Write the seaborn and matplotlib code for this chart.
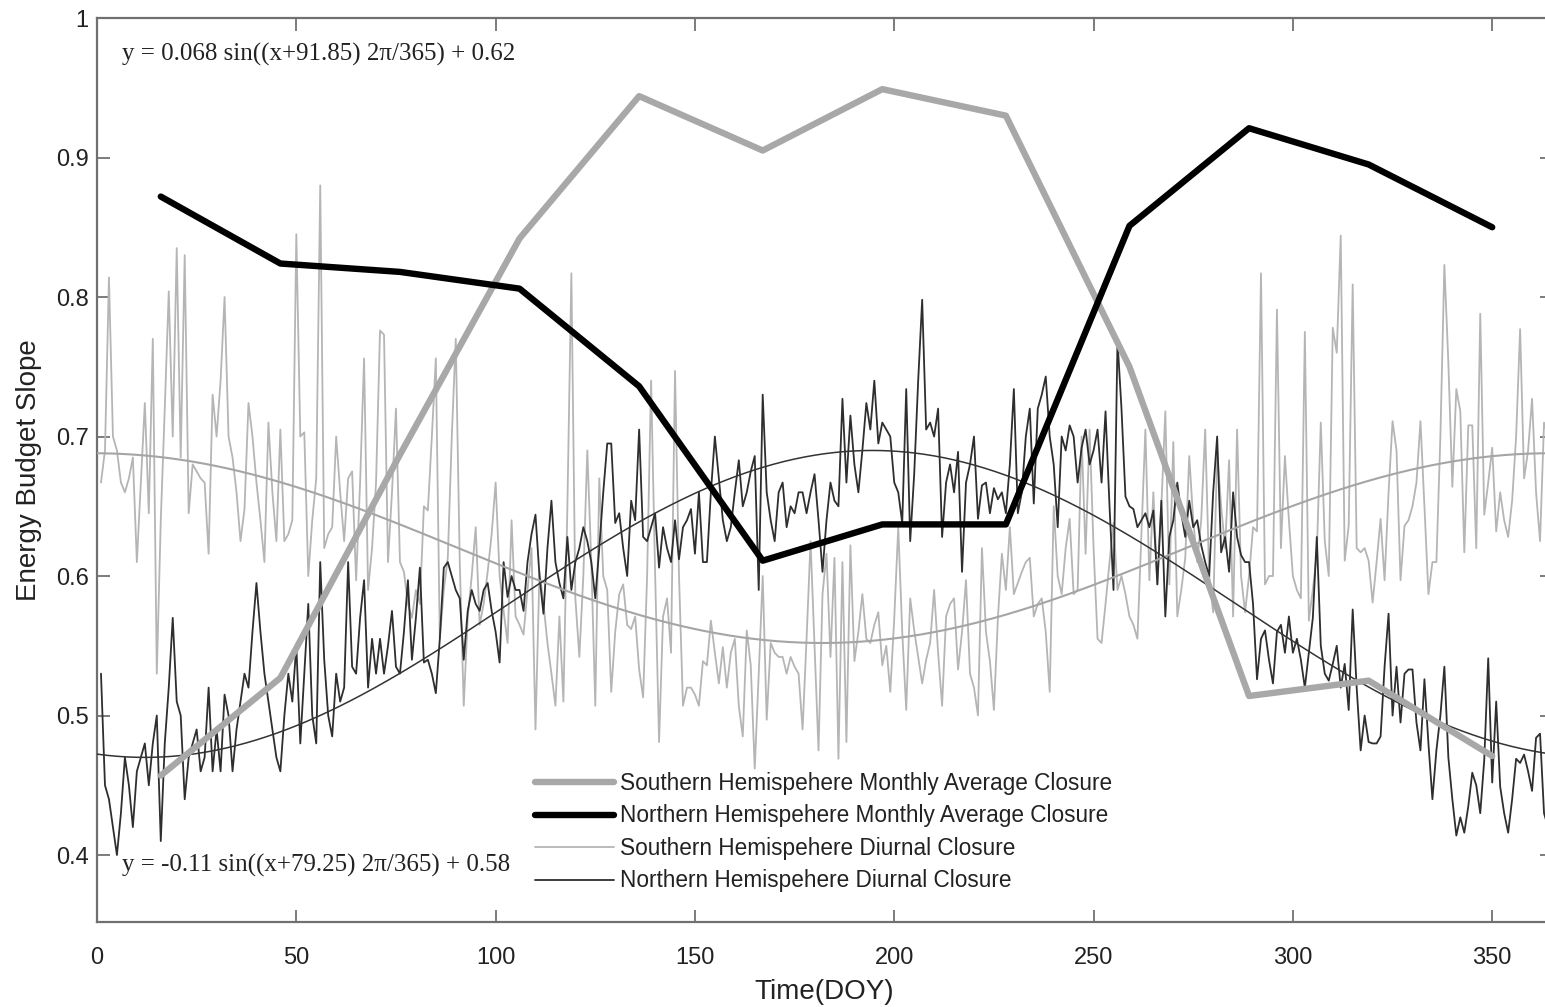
import numpy as np
import pandas as pd
import matplotlib
matplotlib.use("Agg")
import matplotlib.pyplot as plt
import seaborn as sns

# ---------------------------------------------------------------- data
# Monthly average closure (mid-month day of year)
month_doy = [16, 46, 76, 106, 136, 167, 197, 228, 259, 289, 319, 350]
south_monthly = [0.457, 0.527, 0.687, 0.842, 0.944, 0.905, 0.949, 0.930,
                 0.750, 0.514, 0.525, 0.471]
north_monthly = [0.872, 0.824, 0.818, 0.806, 0.736, 0.611, 0.637, 0.637,
                 0.851, 0.921, 0.895, 0.850]

# Daily (diurnal) closure, DOY 1..364
south_diurnal = [
    0.667, 0.69, 0.814, 0.70, 0.69, 0.667, 0.66, 0.67, 0.685, 0.61,
    0.667, 0.724, 0.645, 0.77, 0.53, 0.64, 0.72, 0.804, 0.70, 0.835,
    0.685, 0.83, 0.645, 0.68, 0.675, 0.67, 0.667, 0.616, 0.73, 0.70,
    0.74, 0.80, 0.70, 0.685, 0.66, 0.625, 0.648, 0.724, 0.70, 0.667,
    0.64, 0.61, 0.71, 0.66, 0.625, 0.705, 0.625, 0.63, 0.64, 0.845,
    0.70, 0.703, 0.60, 0.64, 0.67, 0.88, 0.62, 0.63, 0.635, 0.70,
    0.66, 0.625, 0.67, 0.675, 0.597, 0.667, 0.756, 0.59, 0.62, 0.667,
    0.776, 0.773, 0.61, 0.66, 0.72, 0.61, 0.603, 0.58, 0.57, 0.59,
    0.58, 0.65, 0.647, 0.70, 0.756, 0.555, 0.59, 0.613, 0.70, 0.77,
    0.61, 0.507, 0.57, 0.60, 0.635, 0.565, 0.58, 0.603, 0.63, 0.667,
    0.60, 0.575, 0.552, 0.64, 0.571, 0.565, 0.558, 0.59, 0.62, 0.49,
    0.603, 0.58, 0.552, 0.53, 0.507, 0.571, 0.51, 0.65, 0.817, 0.584,
    0.542, 0.60, 0.69, 0.61, 0.507, 0.67, 0.60, 0.59, 0.517, 0.56,
    0.587, 0.594, 0.565, 0.562, 0.571, 0.533, 0.513, 0.60, 0.74, 0.603,
    0.481, 0.571, 0.584, 0.545, 0.747, 0.60, 0.507, 0.52, 0.52, 0.515,
    0.507, 0.539, 0.536, 0.568, 0.545, 0.523, 0.549, 0.52, 0.545, 0.555,
    0.507, 0.485, 0.561, 0.536, 0.462, 0.53, 0.60, 0.497, 0.552, 0.545,
    0.542, 0.542, 0.53, 0.542, 0.535, 0.53, 0.49, 0.555, 0.625, 0.55,
    0.475, 0.587, 0.616, 0.542, 0.613, 0.469, 0.61, 0.481, 0.622, 0.539,
    0.56, 0.587, 0.555, 0.552, 0.565, 0.574, 0.536, 0.55, 0.517, 0.57,
    0.635, 0.56, 0.504, 0.584, 0.561, 0.542, 0.523, 0.54, 0.552, 0.59,
    0.545, 0.507, 0.571, 0.58, 0.584, 0.533, 0.56, 0.597, 0.53, 0.52,
    0.50, 0.62, 0.56, 0.539, 0.504, 0.57, 0.616, 0.59, 0.635, 0.587,
    0.595, 0.603, 0.61, 0.613, 0.571, 0.58, 0.584, 0.56, 0.517, 0.65,
    0.60, 0.587, 0.62, 0.641, 0.587, 0.59, 0.70, 0.616, 0.705, 0.62,
    0.555, 0.552, 0.58, 0.61, 0.638, 0.59, 0.60, 0.587, 0.571, 0.565,
    0.555, 0.63, 0.705, 0.597, 0.66, 0.594, 0.65, 0.718, 0.594, 0.696,
    0.571, 0.59, 0.613, 0.686, 0.64, 0.61, 0.64, 0.705, 0.60, 0.574,
    0.69, 0.65, 0.62, 0.683, 0.571, 0.705, 0.60, 0.574, 0.60, 0.635,
    0.632, 0.817, 0.594, 0.60, 0.60, 0.791, 0.62, 0.686, 0.64, 0.60,
    0.59, 0.584, 0.775, 0.568, 0.59, 0.616, 0.71, 0.625, 0.60, 0.778,
    0.76, 0.844, 0.611, 0.636, 0.809, 0.62, 0.617, 0.62, 0.611, 0.581,
    0.61, 0.641, 0.597, 0.66, 0.711, 0.69, 0.597, 0.636, 0.64, 0.65,
    0.667, 0.711, 0.65, 0.587, 0.61, 0.61, 0.70, 0.823, 0.753, 0.664,
    0.734, 0.718, 0.617, 0.708, 0.708, 0.62, 0.788, 0.644, 0.667, 0.692,
    0.632, 0.66, 0.64, 0.628, 0.654, 0.70, 0.777, 0.67, 0.69, 0.727,
    0.66, 0.625, 0.71, 0.70,
]
north_diurnal = [
    0.53, 0.45, 0.44, 0.42, 0.40, 0.43, 0.47, 0.45, 0.42, 0.46,
    0.47, 0.48, 0.45, 0.48, 0.50, 0.41, 0.48, 0.52, 0.57, 0.51,
    0.50, 0.44, 0.47, 0.48, 0.49, 0.46, 0.47, 0.52, 0.46, 0.49,
    0.46, 0.515, 0.50, 0.46, 0.49, 0.51, 0.53, 0.52, 0.56, 0.595,
    0.56, 0.53, 0.51, 0.49, 0.47, 0.46, 0.50, 0.53, 0.51, 0.55,
    0.48, 0.53, 0.58, 0.50, 0.48, 0.61, 0.54, 0.50, 0.485, 0.53,
    0.51, 0.52, 0.61, 0.535, 0.53, 0.57, 0.597, 0.52, 0.555, 0.53,
    0.555, 0.53, 0.55, 0.575, 0.535, 0.53, 0.56, 0.597, 0.54, 0.57,
    0.606, 0.538, 0.54, 0.53, 0.516, 0.555, 0.606, 0.61, 0.60, 0.59,
    0.584, 0.54, 0.575, 0.59, 0.58, 0.575, 0.59, 0.595, 0.575, 0.56,
    0.538, 0.61, 0.585, 0.60, 0.59, 0.59, 0.575, 0.61, 0.63, 0.644,
    0.60, 0.573, 0.62, 0.654, 0.61, 0.595, 0.584, 0.628, 0.59, 0.61,
    0.62, 0.635, 0.625, 0.61, 0.584, 0.62, 0.66, 0.695, 0.695, 0.638,
    0.645, 0.62, 0.60, 0.654, 0.64, 0.705, 0.628, 0.625, 0.635, 0.645,
    0.606, 0.635, 0.62, 0.61, 0.64, 0.612, 0.635, 0.64, 0.648, 0.616,
    0.66, 0.61, 0.61, 0.66, 0.70, 0.67, 0.64, 0.625, 0.635, 0.66,
    0.683, 0.65, 0.66, 0.675, 0.686, 0.59, 0.73, 0.66, 0.64, 0.625,
    0.66, 0.667, 0.635, 0.65, 0.645, 0.66, 0.66, 0.645, 0.66, 0.673,
    0.64, 0.603, 0.64, 0.667, 0.654, 0.65, 0.727, 0.667, 0.715, 0.68,
    0.66, 0.69, 0.724, 0.705, 0.74, 0.695, 0.71, 0.705, 0.70, 0.667,
    0.66, 0.638, 0.734, 0.625, 0.673, 0.74, 0.798, 0.705, 0.71, 0.70,
    0.72, 0.628, 0.667, 0.68, 0.66, 0.689, 0.603, 0.667, 0.68, 0.70,
    0.641, 0.665, 0.667, 0.645, 0.663, 0.655, 0.66, 0.645, 0.68, 0.734,
    0.645, 0.66, 0.70, 0.72, 0.652, 0.72, 0.73, 0.743, 0.70, 0.68,
    0.635, 0.70, 0.69, 0.708, 0.70, 0.667, 0.692, 0.705, 0.68, 0.69,
    0.705, 0.667, 0.718, 0.65, 0.59, 0.769, 0.72, 0.657, 0.65, 0.648,
    0.635, 0.64, 0.645, 0.635, 0.647, 0.594, 0.654, 0.571, 0.628, 0.64,
    0.667, 0.645, 0.628, 0.654, 0.635, 0.64, 0.622, 0.61, 0.60, 0.66,
    0.70, 0.617, 0.628, 0.603, 0.66, 0.628, 0.615, 0.61, 0.61, 0.58,
    0.526, 0.555, 0.561, 0.54, 0.523, 0.56, 0.565, 0.545, 0.571, 0.545,
    0.555, 0.54, 0.52, 0.545, 0.57, 0.628, 0.55, 0.53, 0.525, 0.537,
    0.55, 0.52, 0.537, 0.504, 0.576, 0.52, 0.475, 0.50, 0.481, 0.48,
    0.48, 0.485, 0.535, 0.573, 0.50, 0.535, 0.495, 0.53, 0.533, 0.533,
    0.495, 0.475, 0.526, 0.48, 0.44, 0.475, 0.50, 0.535, 0.47, 0.44,
    0.414, 0.427, 0.416, 0.435, 0.459, 0.45, 0.43, 0.468, 0.541, 0.452,
    0.51, 0.449, 0.43, 0.416, 0.44, 0.469, 0.466, 0.472, 0.46, 0.446,
    0.484, 0.487, 0.43, 0.42,
]

# Sinusoidal fits: y = A sin((x + phase) 2pi/365) + c
south_fit = (0.068, 91.85, 0.62)
north_fit = (-0.11, 79.25, 0.58)

x_ticks = [0, 50, 100, 150, 200, 250, 300, 350]
y_ticks = [0.4, 0.5, 0.6, 0.7, 0.8, 0.9, 1.0]
y_tick_labels = ["0.4", "0.5", "0.6", "0.7", "0.8", "0.9", "1"]

# ---------------------------------------------------------------- style
sns.set_style("ticks")
plt.rcParams["font.family"] = ["Liberation Sans", "DejaVu Sans"]

W, H = 1545, 1007
fig = plt.figure(figsize=(W / 100, H / 100), dpi=100)
ax = fig.add_axes([97 / W, 1 - 922 / H, 1455 / W, (922 - 18) / H])

doy = np.arange(1, len(south_diurnal) + 1)
doy_n = np.arange(1, len(north_diurnal) + 1)
curve_x = np.linspace(0, 365, 731)


def fit_curve(params):
    a, ph, c = params
    return a * np.sin((curve_x + ph) * 2 * np.pi / 365) + c


LIGHT = "#b5b5b5"
DARK = "#2e2e2e"

sns.lineplot(x=doy, y=south_diurnal, ax=ax, color=LIGHT, lw=1.3,
             label="Southern Hemispehere Diurnal Closure", zorder=2)
sns.lineplot(x=doy_n, y=north_diurnal, ax=ax, color=DARK, lw=1.3,
             label="Northern Hemispehere Diurnal Closure", zorder=3)
sns.lineplot(x=curve_x, y=fit_curve(south_fit), ax=ax, color="#a5a5a5",
             lw=1.5, zorder=4, legend=False)
sns.lineplot(x=curve_x, y=fit_curve(north_fit), ax=ax, color="#333333",
             lw=1.1, zorder=4, legend=False)
sns.lineplot(x=month_doy, y=south_monthly, ax=ax, color="#a8a8a8", lw=4.6,
             label="Southern Hemispehere Monthly Average Closure", zorder=5)
sns.lineplot(x=month_doy, y=north_monthly, ax=ax, color="#000000", lw=4.6,
             label="Northern Hemispehere Monthly Average Closure", zorder=6)

ax.set_xlim(0, 365)
ax.set_ylim(0.352, 1.0)
ax.set_xticks(x_ticks)
ax.set_yticks(y_ticks)
ax.set_yticklabels(y_tick_labels)
ax.tick_params(direction="in", length=9, width=1.2, color="#666666",
               top=True, right=True, labelsize=17, labelcolor="#222222")
ax.tick_params(axis="x", pad=18)
ax.tick_params(axis="y", pad=6)
for sp in ax.spines.values():
    sp.set_color("#707070")
    sp.set_linewidth(1.6)

ax.set_xlabel("Time(DOY)", fontsize=20, color="#222222", labelpad=7)
ax.set_ylabel("Energy Budget Slope", fontsize=20, color="#222222",
              labelpad=10)

# Fit equations
eq_font = dict(family=["Liberation Serif", "DejaVu Serif"], fontsize=18,
               color="#222222")
ax.text(0.017, 0.960, "y = 0.068 sin((x+91.85) 2\u03c0/365) + 0.62",
        transform=ax.transAxes, va="center", ha="left", **eq_font)
ax.text(0.017, 0.063, "y = -0.11 sin((x+79.25) 2\u03c0/365) + 0.58",
        transform=ax.transAxes, va="center", ha="left", **eq_font)

# Legend in the requested order
handles, labels = ax.get_legend_handles_labels()
order = ["Southern Hemispehere Monthly Average Closure",
         "Northern Hemispehere Monthly Average Closure",
         "Southern Hemispehere Diurnal Closure",
         "Northern Hemispehere Diurnal Closure"]
hmap = dict(zip(labels, handles))
leg = ax.legend([hmap[k] for k in order], order, loc="upper left",
                bbox_to_anchor=(0.301, 0.166), frameon=False, fontsize=16.3,
                handlelength=3.5, handletextpad=0.25, labelspacing=0.42,
                borderpad=0, borderaxespad=0)
for t in leg.get_texts():
    t.set_color("#222222")

fig.savefig("out.png", dpi=100)
